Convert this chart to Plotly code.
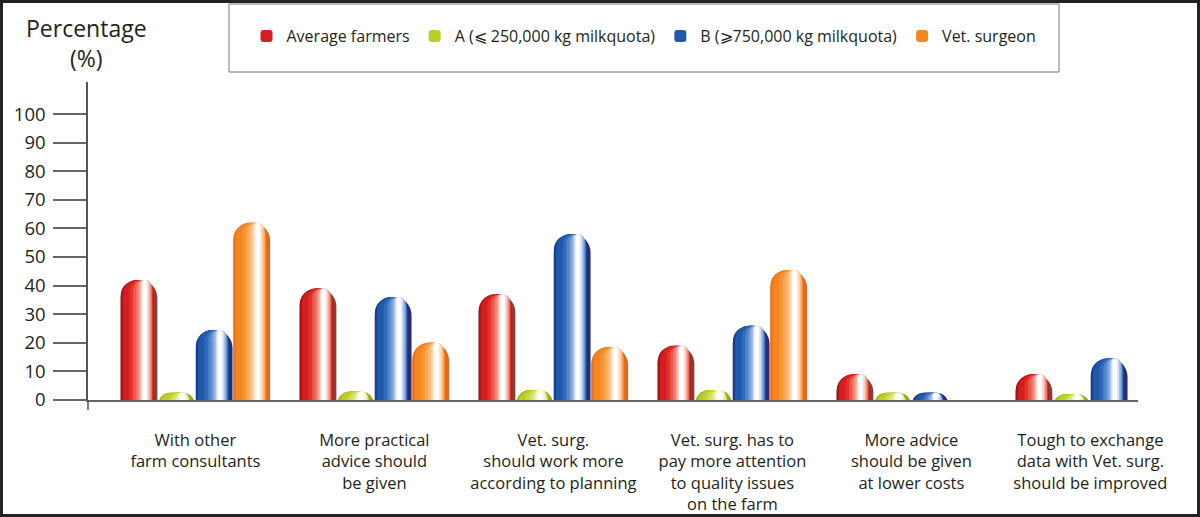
import plotly.graph_objects as go

# survey answers per statement, in percent
categories = [
    "With other<br>farm consultants",
    "More practical<br>advice should<br>be given",
    "Vet. surg.<br>should work more<br>according to planning",
    "Vet. surg. has to<br>pay more attention<br>to quality issues<br>on the farm",
    "More advice<br>should be given<br>at lower costs",
    "Tough to exchange<br>data with Vet. surg.<br>should be improved",
]
series_names = [
    "Average farmers",
    "A (⩽ 250,000 kg milkquota)",
    "B (⩾750,000 kg milkquota)",
    "Vet. surgeon",
]
average_farmers = [42, 39, 37, 19, 9, 9]
group_a = [2.5, 3, 3.5, 3.5, 2.5, 2]
group_b = [24.5, 36, 58, 26, 2.5, 14.5]
vet_surgeon = [62, 20, 18.5, 45.5, 0, 0]
y_ticks = list(range(0, 101, 10))

# cylinder shading: right edge colour, then left-side ramp dark -> body -> light -> white
right_edge = ["#8c3c30", "#93a91e", "#2c2a78", "#e2661f"]
left_ramp = [
    ["#a8121b", "#e2231f", "#f3907e", "#ffffff"],
    ["#a3b81c", "#c4d62c", "#e2eb8e", "#ffffff"],
    ["#163f8e", "#2262b5", "#86a8dc", "#ffffff"],
    ["#ee7218", "#f68d25", "#fbbd82", "#ffffff"],
]
# nested shading layers, as fractions of the bar width (highlight right of centre)
bands = [(-0.5, 0.5), (-0.5, 0.40), (-0.44, 0.39), (-0.36, 0.38), (-0.26, 0.37),
         (-0.16, 0.36), (-0.07, 0.34), (0.0, 0.31), (0.05, 0.27), (0.09, 0.22)]

SLOT = 0.21
BAR_W = 0.205
CAP = 6.5  # bar radius in axis units, bars start below the clipped baseline so low bars show as domes
FONT = "Open Sans"
TEXT = "#231f20"

W, H = 1200, 517
ML, MR, MT, MB = 88, 62, 82, 117


def px_x(x):
    return (x - ML) / (W - ML - MR)


def px_y(y):
    return (H - MB - y) / (H - MT - MB)


def mix(c1, c2, t):
    a = [int(c1[i:i + 2], 16) for i in (1, 3, 5)]
    b = [int(c2[i:i + 2], 16) for i in (1, 3, 5)]
    return "#" + "".join("%02x" % round(p + (q - p) * t) for p, q in zip(a, b))


def shades(keys, n):
    out = []
    for i in range(n):
        pos = i / (n - 1) * (len(keys) - 1)
        k = min(int(pos), len(keys) - 2)
        out.append(mix(keys[k], keys[k + 1], pos - k))
    return out


fig = go.Figure()
x_idx = list(range(len(categories)))
for j, (name, values) in enumerate(zip(series_names,
                                       [average_farmers, group_a, group_b, vet_surgeon])):
    centre = (j - 1.5) * SLOT
    colors = [right_edge[j]] + shades(left_ramp[j], len(bands) - 1)
    for k, ((a, b), color) in enumerate(zip(bands, colors)):
        fig.add_trace(go.Bar(
            x=x_idx, y=[v + CAP for v in values], base=-CAP,
            name=name, legendgroup=name, showlegend=(k == 2),
            offset=centre + a * BAR_W, width=(b - a) * BAR_W,
            marker=dict(color=color if k != 2 else colors[3], line=dict(width=0),
                        cornerradius="50%"),
            hoverinfo="skip", cliponaxis=True,
        ))

fig.update_layout(
    width=W, height=H,
    margin=dict(l=ML, r=MR, t=MT, b=MB, autoexpand=False),
    barmode="overlay",
    paper_bgcolor="white", plot_bgcolor="white",
    font=dict(family=FONT, color=TEXT, size=16),
    xaxis=dict(
        range=[-0.6, 5.266], tickmode="array", tickvals=x_idx, ticktext=categories,
        showgrid=False, zeroline=False, showline=True, linecolor="#666", linewidth=2,
        ticks="", ticklabelstandoff=24, tickfont=dict(size=16.5, color=TEXT),
        automargin=False,
    ),
    yaxis=dict(
        range=[0, 111.2], tickmode="array", tickvals=y_ticks,
        showgrid=False, showline=True, linecolor="#555", linewidth=1.5,
        ticks="outside", ticklen=33, tickwidth=1.5, tickcolor="#666",
        zeroline=False, ticklabelstandoff=4, automargin=False,
        tickfont=dict(size=18.5, color=TEXT),
    ),
    legend=dict(
        orientation="h", x=px_x(644), xanchor="center", y=px_y(36), yanchor="middle",
        bgcolor="rgba(0,0,0,0)", font=dict(size=16, color=TEXT), traceorder="normal",
    ),
    showlegend=True,
    shapes=[
        dict(type="rect", xref="paper", yref="paper",
             x0=px_x(229), x1=px_x(1059), y0=px_y(4), y1=px_y(72),
             line=dict(color="#777", width=1)),
        dict(type="line", xref="paper", yref="paper",
             x0=0, x1=0, y0=0, y1=px_y(410),
             line=dict(color="#555", width=1.5)),
        dict(type="rect", xref="paper", yref="paper",
             x0=px_x(1.5), x1=px_x(W - 1.5), y0=px_y(1.5), y1=px_y(H - 1.5),
             line=dict(color="#222", width=3)),
    ],
    annotations=[
        dict(text="Percentage<br>(%)", xref="paper", yref="paper",
             x=px_x(86), y=px_y(43), xanchor="center", yanchor="middle",
             showarrow=False, font=dict(size=23, color=TEXT)),
    ],
)

fig.write_html(
    "out.html",
    config={"displayModeBar": False},
    post_script="document.body.style.margin='0';document.body.style.overflow='hidden';",
)
